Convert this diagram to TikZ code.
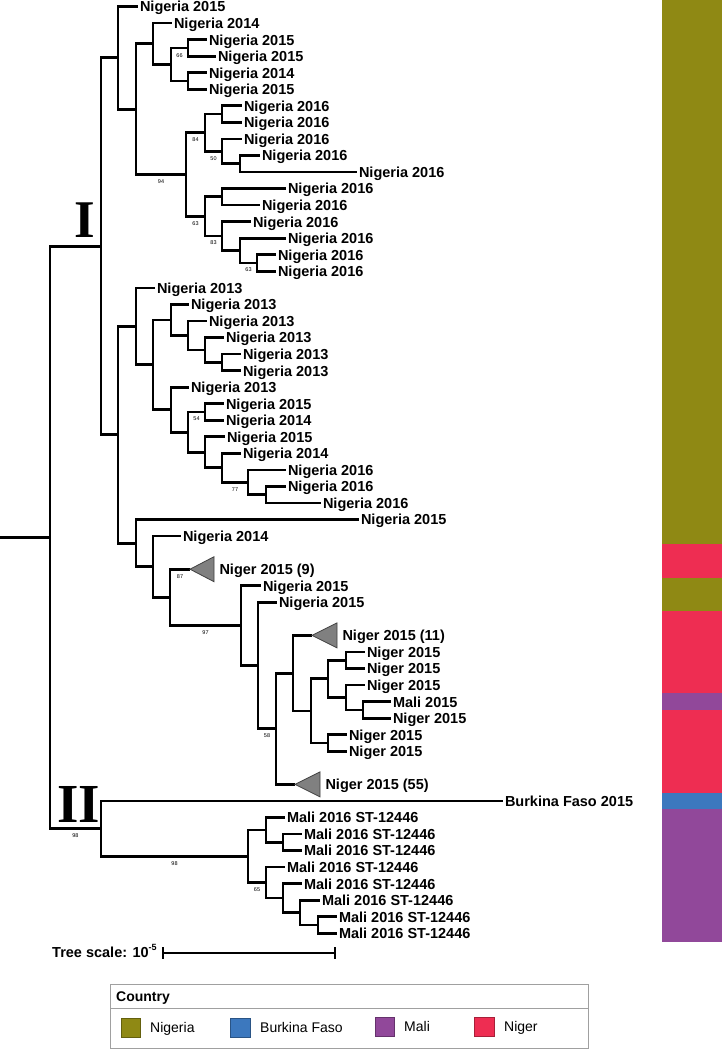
\documentclass[tikz,border=0pt]{standalone}
\usepackage{fontspec}
\setmainfont{Liberation Sans}
\newfontfamily\romanf{Liberation Serif}
\definecolor{cNigeria}{RGB}{143,137,20}
\definecolor{cNiger}{RGB}{238,45,82}
\definecolor{cMali}{RGB}{145,72,154}
\definecolor{cBurkina}{RGB}{60,120,190}
\definecolor{cTri}{RGB}{128,128,128}
\definecolor{cFrame}{RGB}{160,160,160}
\newcommand\lf[5]{\coordinate (#2) at (#3,{6.5+16.55*#4});
  \draw[br] (#1) |- (#2);
  \node[lbl] (#2l) at (#2) {#5};}
\newcommand\bb[2]{\draw[br] (#1) |- (#2);}
\newcommand\clp[6]{\coordinate (#2) at (#3,{6.5+16.55*#4});
  \draw[br] (#1) |- (#2);
  \draw[tri] (#2) -- ++({#5-#3},-12.5) -- ++(0,25) -- cycle;
  \node[lbl] (#2l) at ({#5+3.5},{6.5+16.55*#4}) {#6};}
\begin{document}
\begin{tikzpicture}[x=1pt,y=-1pt,
  br/.style={line width=2.7pt, line join=miter},
  lbl/.style={anchor=west, inner sep=0pt, xshift=1.8pt, text height=10.8pt, text depth=0pt,
    font=\bfseries\fontsize{14.5}{16}\selectfont},
  bs/.style={inner sep=0pt, font=\fontsize{5.5}{6}\selectfont},
  tri/.style={fill=cTri, draw=black!75, line width=0.8pt, line join=miter},
  legtxt/.style={anchor=west, inner sep=0pt, text height=10pt, text depth=0pt, font=\fontsize{14}{16}\selectfont},
  sw/.style={line width=0.6pt}]
\useasboundingbox (0,0) rectangle (722,1052);

% colour bar
\fill[cNigeria] (662,0) rectangle (722,544.4);
\fill[cNiger] (662,544.4) rectangle (722,577.5);
\fill[cNigeria] (662,577.5) rectangle (722,610.6);
\fill[cNiger] (662,610.6) rectangle (722,693.3);
\fill[cMali] (662,693.3) rectangle (722,709.9);
\fill[cNiger] (662,709.9) rectangle (722,792.6);
\fill[cBurkina] (662,792.6) rectangle (722,809.2);
\fill[cMali] (662,809.2) rectangle (722,941.6);

% internal nodes
\coordinate (R0) at (0,537.43);
\coordinate (R) at (50,537.43);
\coordinate (nI) at (101,246.29);
\coordinate (A) at (118,57.83);
\coordinate (B) at (136,109.16);
\coordinate (C) at (153,43.74);
\coordinate (E) at (171,64.43);
\coordinate (F) at (188,47.88);
\coordinate (G) at (188,80.98);
\coordinate (D) at (186,174.59);
\coordinate (H) at (205,132.69);
\coordinate (K) at (222,114.08);
\coordinate (M) at (222,151.31);
\coordinate (N) at (240,163.73);
\coordinate (J) at (205,216.48);
\coordinate (P) at (222,196.83);
\coordinate (Q) at (222,236.13);
\coordinate (S) at (240,250.61);
\coordinate (T) at (257,263.03);
\coordinate (U) at (118,434.74);
\coordinate (V) at (136,326.32);
\coordinate (V2) at (153,364.79);
\coordinate (V3) at (171,319.92);
\coordinate (V5) at (188,335.43);
\coordinate (V6) at (205,349.91);
\coordinate (V7) at (222,362.33);
\coordinate (V4) at (171,409.65);
\coordinate (V8) at (188,432.15);
\coordinate (V9) at (205,411.98);
\coordinate (V10) at (205,452.32);
\coordinate (V11) at (222,467.83);
\coordinate (V12) at (248,482.31);
\coordinate (V13) at (266,494.73);
\coordinate (W) at (136,543.16);
\coordinate (X) at (153,566.76);
\coordinate (Y) at (170,597.42);
\coordinate (Z) at (241,625.64);
\coordinate (Z2) at (258,665.53);
\coordinate (Z3) at (276,728.75);
\coordinate (Z4) at (293,673.16);
\coordinate (Z5) at (311,710.91);
\coordinate (Z6) at (328,678.84);
\coordinate (Z8) at (346,660.23);
\coordinate (Z9) at (346,697.46);
\coordinate (Z10) at (363,709.88);
\coordinate (Z7) at (328,742.98);
\coordinate (nII) at (101,828.57);
\coordinate (MA) at (248,856.24);
\coordinate (MB) at (266,829.86);
\coordinate (MD) at (283,842.28);
\coordinate (MC) at (266,882.62);
\coordinate (ME) at (283,898.13);
\coordinate (MF) at (300,912.61);
\coordinate (MG) at (318,925.03);

% internal branches
\draw[br] (R0) -- (R);
\bb{R}{nI}\bb{R}{nII}
\bb{nI}{A}\bb{nI}{U}
\bb{A}{B}
\bb{B}{C}\bb{B}{D}
\bb{C}{E}
\bb{E}{F}\bb{E}{G}
\bb{D}{H}\bb{D}{J}
\bb{H}{K}\bb{H}{M}
\bb{M}{N}
\bb{J}{P}\bb{J}{Q}
\bb{Q}{S}
\bb{S}{T}
\bb{U}{V}\bb{U}{W}
\bb{V}{V2}
\bb{V2}{V3}\bb{V2}{V4}
\bb{V3}{V5}
\bb{V5}{V6}
\bb{V6}{V7}
\bb{V4}{V8}
\bb{V8}{V9}\bb{V8}{V10}
\bb{V10}{V11}
\bb{V11}{V12}
\bb{V12}{V13}
\bb{W}{X}
\bb{X}{Y}
\bb{Y}{Z}
\bb{Z}{Z2}
\bb{Z2}{Z3}
\bb{Z3}{Z4}
\bb{Z4}{Z5}
\bb{Z5}{Z6}\bb{Z5}{Z7}
\bb{Z6}{Z8}\bb{Z6}{Z9}
\bb{Z9}{Z10}
\bb{nII}{MA}
\bb{MA}{MB}\bb{MA}{MC}
\bb{MB}{MD}
\bb{MC}{ME}
\bb{ME}{MF}
\bb{MF}{MG}

% leaves
\lf{A}{t0}{138}{0}{Nigeria 2015}
\lf{C}{t1}{172}{1}{Nigeria 2014}
\lf{F}{t2}{207}{2}{Nigeria 2015}
\lf{F}{t3}{216}{3}{Nigeria 2015}
\lf{G}{t4}{207}{4}{Nigeria 2014}
\lf{G}{t5}{207}{5}{Nigeria 2015}
\lf{K}{t6}{242}{6}{Nigeria 2016}
\lf{K}{t7}{242}{7}{Nigeria 2016}
\lf{M}{t8}{242}{8}{Nigeria 2016}
\lf{N}{t9}{260}{9}{Nigeria 2016}
\lf{N}{t10}{357}{10}{Nigeria 2016}
\lf{P}{t11}{286}{11}{Nigeria 2016}
\lf{P}{t12}{260}{12}{Nigeria 2016}
\lf{Q}{t13}{251}{13}{Nigeria 2016}
\lf{S}{t14}{286}{14}{Nigeria 2016}
\lf{T}{t15}{276}{15}{Nigeria 2016}
\lf{T}{t16}{276}{16}{Nigeria 2016}
\lf{V}{t17}{155}{17}{Nigeria 2013}
\lf{V3}{t18}{189}{18}{Nigeria 2013}
\lf{V5}{t19}{207}{19}{Nigeria 2013}
\lf{V6}{t20}{224}{20}{Nigeria 2013}
\lf{V7}{t21}{241}{21}{Nigeria 2013}
\lf{V7}{t22}{241}{22}{Nigeria 2013}
\lf{V4}{t23}{189}{23}{Nigeria 2013}
\lf{V9}{t24}{224}{24}{Nigeria 2015}
\lf{V9}{t25}{224}{25}{Nigeria 2014}
\lf{V10}{t26}{225}{26}{Nigeria 2015}
\lf{V11}{t27}{241}{27}{Nigeria 2014}
\lf{V12}{t28}{286}{28}{Nigeria 2016}
\lf{V13}{t29}{286}{29}{Nigeria 2016}
\lf{V13}{t30}{321}{30}{Nigeria 2016}
\lf{W}{t31}{359}{31}{Nigeria 2015}
\lf{X}{t32}{181}{32}{Nigeria 2014}
\lf{Z}{t35}{261}{35}{Nigeria 2015}
\lf{Z2}{t36}{277}{36}{Nigeria 2015}
\lf{Z8}{t39}{365}{39}{Niger 2015}
\lf{Z8}{t40}{365}{40}{Niger 2015}
\lf{Z9}{t41}{365}{41}{Niger 2015}
\lf{Z10}{t42}{391}{42}{Mali 2015}
\lf{Z10}{t43}{391}{43}{Niger 2015}
\lf{Z7}{t44}{347}{44}{Niger 2015}
\lf{Z7}{t45}{347}{45}{Niger 2015}
\lf{nII}{t48}{503}{48}{Burkina Faso 2015}
\lf{MB}{t49}{285}{49}{Mali 2016 ST-12446}
\lf{MD}{t50}{302}{50}{Mali 2016 ST-12446}
\lf{MD}{t51}{302}{51}{Mali 2016 ST-12446}
\lf{MC}{t52}{285}{52}{Mali 2016 ST-12446}
\lf{ME}{t53}{302}{53}{Mali 2016 ST-12446}
\lf{MF}{t54}{320}{54}{Mali 2016 ST-12446}
\lf{MG}{t55}{337}{55}{Mali 2016 ST-12446}
\lf{MG}{t56}{337}{56}{Mali 2016 ST-12446}

% collapsed clades
\clp{Y}{c9}{190}{34}{214}{Niger 2015 (9)}
\clp{Z4}{c11}{312}{38}{337}{Niger 2015 (11)}
\clp{Z3}{c55}{295}{47}{320}{Niger 2015 (55)}

% bootstrap values
\node[bs] (b1) at (179.5,55.5) {66};
\node[bs] (b2) at (161,182) {94};
\node[bs] (b3) at (195.5,140) {84};
\node[bs] (b4) at (213.5,158.5) {50};
\node[bs] (b5) at (195.5,224) {63};
\node[bs] (b6) at (213.5,243) {83};
\node[bs] (b7) at (248.5,270) {63};
\node[bs] (b8) at (196.5,419) {54};
\node[bs] (b9) at (235,489.5) {77};
\node[bs] (b10) at (180,576.5) {87};
\node[bs] (b11) at (205.5,633) {97};
\node[bs] (b12) at (267,736) {58};
\node[bs] (b13) at (75.5,836) {98};
\node[bs] (b14) at (174.5,863.5) {98};
\node[bs] (b15) at (257,890) {65};

% clade labels
\node[inner sep=0pt, text height=35pt, text depth=0pt, font=\romanf\bfseries\fontsize{53}{53}\selectfont] (cl1) at (84.5,219.5) {I};
\node[inner sep=0pt, text height=37.7pt, text depth=0pt, font=\romanf\bfseries\fontsize{55}{55}\selectfont] (cl2) at (78.5,804) {II};

% tree scale
\node[anchor=west, inner sep=0pt, text height=10.4pt, text depth=0pt, font=\bfseries\fontsize{14.5}{16}\selectfont] (ts) at (52,952.5) {Tree scale: 10\raisebox{7pt}{\fontsize{9}{9}\selectfont -5}};
\coordinate (sb1) at (163,953);
\coordinate (sb2) at (335,953);
\draw[line width=1.1pt] (sb1) -- (sb2);
\draw[line width=1.1pt] ([yshift=6pt]sb1) -- ([yshift=-6pt]sb1);
\draw[line width=1.1pt] ([yshift=6pt]sb2) -- ([yshift=-6pt]sb2);

% legend
\draw[cFrame, line width=1pt] (110,984) rectangle (588,1048);
\draw[cFrame, line width=1pt] (110,1008) -- (588,1008);
\node[anchor=west, inner sep=0pt, text height=10pt, text depth=0pt, font=\bfseries\fontsize{14}{16}\selectfont] (lh) at (116,996) {Country};
\filldraw[sw, fill=cNigeria, draw=cNigeria!70!black] (121,1018) rectangle (140,1037);
\node[legtxt] (lt1) at (150,1027.5) {Nigeria};
\filldraw[sw, fill=cBurkina, draw=cBurkina!70!black] (230,1018) rectangle (250,1037);
\node[legtxt] (lt2) at (260,1027.5) {Burkina Faso};
\filldraw[sw, fill=cMali, draw=cMali!70!black] (375,1017) rectangle (394,1036);
\node[legtxt] (lt3) at (404,1026.5) {Mali};
\filldraw[sw, fill=cNiger, draw=cNiger!70!black] (474,1017) rectangle (494,1036);
\node[legtxt] (lt4) at (504,1026.5) {Niger};
\end{tikzpicture}
\end{document}
